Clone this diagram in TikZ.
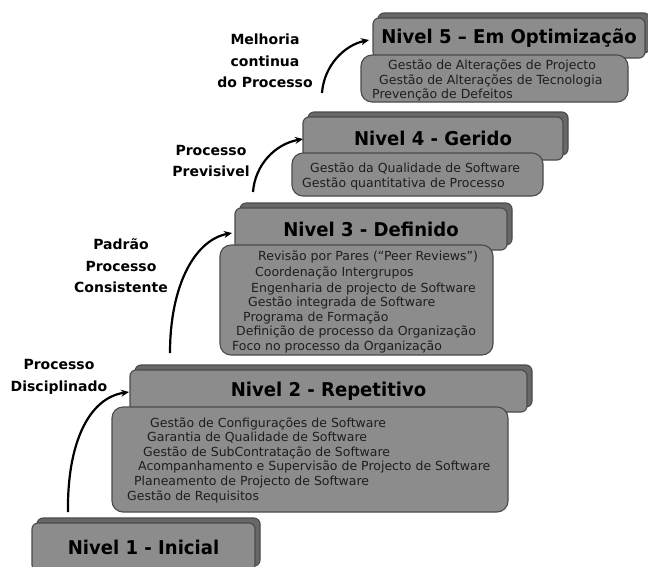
\documentclass[tikz,border=0pt]{standalone}
\usepackage{fontspec}
\setmainfont{DejaVu Sans}
\newfontfamily\detfont{DejaVu Sans}
\newfontfamily\hdfont[FakeStretch=0.95]{DejaVu Sans}
\newfontfamily\lblfont{DejaVu Sans}
\usetikzlibrary{arrows.meta}
\definecolor{boxfill}{HTML}{8C8C8C}
\definecolor{shadefill}{HTML}{686868}
\definecolor{boxline}{HTML}{4A4A4A}
\definecolor{dettext}{HTML}{1E1E1E}
\tikzset{
  hdrbox/.style={draw=boxline, line width=1.1pt, fill=boxfill, rounded corners=6pt, inner sep=0pt,
    font=\hdfont\bfseries\fontsize{19}{21}\selectfont, text=black},
  shadebox/.style={draw=boxline, line width=1.1pt, fill=shadefill, rounded corners=6pt, inner sep=0pt},
  detbox/.style={draw=boxline, line width=1.1pt, fill=boxfill, rounded corners=11pt, inner sep=0pt},
  detline/.style={anchor=west, inner sep=0pt, font=\detfont\fontsize{12.5}{14}\selectfont, text=dettext},
  lbl/.style={align=center, inner sep=0pt, font=\lblfont\bfseries\fontsize{14}{21.5}\selectfont, text=black},
  stair/.style={-{Stealth[length=8pt,width=7pt]}, line width=2.2pt, black}
}
\newcommand{\hdrbx}[6]{% name, x1, y1, x2, y2, text
  \node[shadebox, minimum width={#4-#2}, minimum height={#5-#3}] (#1s) at ({(#2+#4)/2+5},{(#3+#5)/2-5}) {};
  \node[hdrbox, minimum width={#4-#2}, minimum height={#5-#3}] (#1) at ({(#2+#4)/2},{(#3+#5)/2}) {#6};
}
\newcommand{\detbx}[5]{% name, x1, y1, x2, y2
  \node[detbox, minimum width={#4-#2}, minimum height={#5-#3}] (#1) at ({(#2+#4)/2},{(#3+#5)/2}) {};
}
\begin{document}
\begin{tikzpicture}[x=1pt, y=-1pt]
\useasboundingbox (0,0) rectangle (648,566);
\begin{scope}
\clip (0,0) rectangle (648,566);
% Nivel 5
\hdrbx{h5}{373}{18}{645}{58}{Nivel 5 – Em Optimização}
\detbx{d5}{361}{55}{628}{102}
\node[detline] (d5a) at (388,66) {Gestão de Alterações de Projecto};
\node[detline] (d5b) at (379,81) {Gestão de Alterações de Tecnologia};
\node[detline] (d5c) at (372,95) {Prevenção de Defeitos};
% Nivel 4
\hdrbx{h4}{303}{117}{563}{160}{Nivel 4 - Gerido}
\detbx{d4}{292}{153}{543}{196}
\node[detline] (d4a) at (310,168) {Gestão da Qualidade de Software};
\node[detline] (d4b) at (302,184) {Gestão quantitativa de Processo};
% Nivel 3
\hdrbx{h3}{235}{208}{507}{250}{Nivel 3 - Definido}
\detbx{d3}{220}{245}{493}{355}
\node[detline] (d3a) at (258,257) {Revisão por Pares (“Peer Reviews”)};
\node[detline] (d3b) at (255,273) {Coordenação Intergrupos};
\node[detline] (d3c) at (251,289) {Engenharia de projecto de Software};
\node[detline] (d3d) at (248,303) {Gestão integrada de Software};
\node[detline] (d3e) at (243,318) {Programa de Formação};
\node[detline] (d3f) at (236,332) {Definição de processo da Organização};
\node[detline] (d3g) at (232,347) {Foco no processo da Organização};
% Nivel 2
\hdrbx{h2}{130}{370}{527}{412}{Nivel 2 - Repetitivo}
\detbx{d2}{112}{407}{508}{512}
\node[detline] (d2a) at (150,424) {Gestão de Configurações de Software};
\node[detline] (d2b) at (147,438) {Garantia de Qualidade de Software};
\node[detline] (d2c) at (143,453) {Gestão de SubContratação de Software};
\node[detline] (d2d) at (138,467) {Acompanhamento e Supervisão de Projecto de Software};
\node[detline] (d2e) at (134,482) {Planeamento de Projecto de Software};
\node[detline] (d2f) at (127,497) {Gestão de Requisitos};
% Nivel 1
\hdrbx{h1}{32}{523}{255}{571}{Nivel 1 - Inicial}
\end{scope}
% labels
\node[lbl] (l5) at (265,61) {Melhoria\\continua\\do Processo};
\node[lbl] (l4) at (211,161) {Processo\\Previsivel};
\node[lbl] (l3) at (121,266) {Padrão\\Processo\\Consistente};
\node[lbl] (l2) at (59,377) {Processo\\Disciplinado};
% arrows
\coordinate (a1s) at (68,512);
\coordinate (a1e) at (129,392);
\coordinate (a2s) at (170,353);
\coordinate (a2e) at (232,233);
\coordinate (a3s) at (253,192);
\coordinate (a3e) at (303,139);
\coordinate (a4s) at (322,93);
\coordinate (a4e) at (369,40);
\draw[stair] (a1s) .. controls (67,445) and (88,398) .. (a1e);
\draw[stair] (a2s) .. controls (170,285) and (195,240) .. (a2e);
\draw[stair] (a3s) .. controls (255,165) and (275,144) .. (a3e);
\draw[stair] (a4s) .. controls (324,65) and (345,45) .. (a4e);
\end{tikzpicture}
\end{document}
